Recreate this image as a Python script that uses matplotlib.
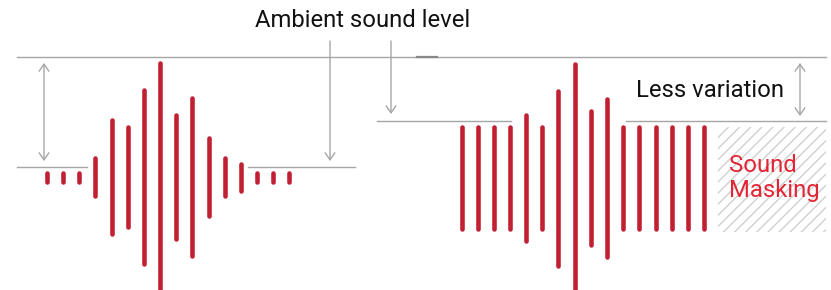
import matplotlib
matplotlib.use('Agg')
import matplotlib.pyplot as plt
from matplotlib.patches import Rectangle

# -- data (diagram units = pixels of the original, y grows downwards)

left_x = [47, 63, 79, 95, 112, 128, 144, 160, 176, 192, 209, 225, 241, 257, 273, 289]
left_top = [173, 173, 173, 158, 120, 127, 90, 63, 115, 98, 138, 158, 164, 173, 173, 173]
left_bottom = [182, 182, 182, 196, 234, 227, 264, 290, 239, 256, 216, 196, 191, 182, 182, 182]

right_x = [462, 478, 494, 510, 526, 542, 558, 575, 591, 607, 623, 639, 656, 672, 688, 704]
right_top = [127, 127, 127, 127, 115, 127, 91, 64, 111, 99, 127, 127, 127, 127, 127, 127]
right_bottom = [229, 229, 229, 229, 241, 229, 266, 290, 245, 257, 229, 229, 229, 229, 229, 229]

ambient_level = 57
left_level = 167
right_level = 121

BAR_RED = '#c11f32'
TEXT_RED = '#e32636'
GRAY = '#a6a6a6'

plt.rcParams['hatch.color'] = '#d0d0d0'

fig = plt.figure(figsize=(8.31, 2.90), dpi=100)
ax = fig.add_axes([0, 0, 1, 1])
ax.set_xlim(0, 831)
ax.set_ylim(290, 0)
ax.axis('off')

# bars
ax.vlines(left_x, left_top, left_bottom, colors=BAR_RED, linewidth=3.3, capstyle='round')
ax.vlines(right_x, right_top, right_bottom, colors=BAR_RED, linewidth=3.3, capstyle='round')

# level lines
ax.plot([17, 826], [ambient_level, ambient_level], color=GRAY, lw=1.0)
ax.plot([417, 437], [ambient_level, ambient_level], color='#888888', lw=1.6)
ax.plot([17, 87], [left_level, left_level], color=GRAY, lw=1.0)
ax.plot([248, 355], [left_level, left_level], color=GRAY, lw=1.0)
ax.plot([377, 511], [right_level, right_level], color=GRAY, lw=1.0)
ax.plot([626, 826], [right_level, right_level], color=GRAY, lw=1.0)

# arrows
arr = dict(color=GRAY, lw=1.0, shrinkA=0, shrinkB=0)
ax.annotate('', xy=(44, 161), xytext=(44, 63),
            arrowprops=dict(arrowstyle='<->,head_length=0.5,head_width=0.35', **arr))
ax.annotate('', xy=(800, 116), xytext=(800, 63),
            arrowprops=dict(arrowstyle='<->,head_length=0.5,head_width=0.35', **arr))
ax.annotate('', xy=(330, 161), xytext=(330, 41),
            arrowprops=dict(arrowstyle='->,head_length=0.5,head_width=0.35', **arr))
ax.annotate('', xy=(391, 114), xytext=(391, 41),
            arrowprops=dict(arrowstyle='->,head_length=0.5,head_width=0.35', **arr))

# hatched masking area
ax.add_patch(Rectangle((718, 127), 108, 105, facecolor='none', edgecolor='#d0d0d0',
                       hatch='///', linewidth=0))

# labels
ax.text(255, 27, 'Ambient sound level', fontsize=17.2, family='Roboto', color='#111111',
        ha='left', va='baseline')
ax.text(636, 97, 'Less variation', fontsize=17.2, family='Roboto', color='#111111',
        ha='left', va='baseline')
ax.text(729, 172, 'Sound', fontsize=17.2, family='Roboto', color=TEXT_RED,
        ha='left', va='baseline')
ax.text(729, 197, 'Masking', fontsize=17.2, family='Roboto', color=TEXT_RED,
        ha='left', va='baseline')

fig.savefig('out.png', dpi=100)
